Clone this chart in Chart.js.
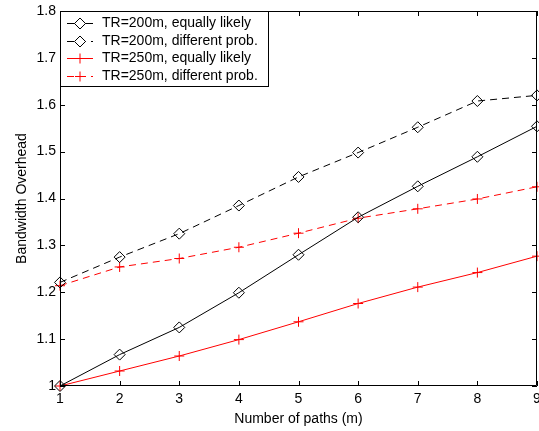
<!DOCTYPE html>
<html>
<head>
<meta charset="utf-8">
<script src="https://cdn.jsdelivr.net/npm/chart.js@4/dist/chart.umd.min.js"></script>
<style>
  html, body { margin: 0; padding: 0; background: #fff; }
  #wrap { width: 539px; height: 431px; }
</style>
</head>
<body>
<div id="wrap"><canvas id="chart" width="539" height="431"></canvas></div>
<script>
// data
const paths = [1, 2, 3, 4, 5, 6, 7, 8, 9];
const tr200Equal = [1.000, 1.067, 1.125, 1.199, 1.280, 1.360, 1.426, 1.489, 1.554];
const tr200Diff  = [1.221, 1.275, 1.325, 1.385, 1.446, 1.498, 1.552, 1.608, 1.620];
const tr250Equal = [1.000, 1.032, 1.064, 1.099, 1.137, 1.176, 1.211, 1.242, 1.277];
const tr250Diff  = [1.214, 1.254, 1.272, 1.296, 1.326, 1.358, 1.378, 1.399, 1.425];
const yTicks = [1.0, 1.1, 1.2, 1.3, 1.4, 1.5, 1.6, 1.7, 1.8];
const seriesLabels = [
  "TR=200m, equally likely",
  "TR=200m, different prob.",
  "TR=250m, equally likely",
  "TR=250m, different prob.",
];

const FONT = "'Liberation Sans', Arial, Helvetica, sans-serif";
const FSIZE = 14;
const DASH = [7, 5];

function pts(vals) {
  return vals.map((v, i) => ({ x: paths[i], y: v }));
}

function series(label, vals, color, dashed, marker) {
  return {
    label,
    data: pts(vals),
    borderColor: color,
    borderWidth: 1,
    borderDash: dashed ? DASH : [],
    pointStyle: marker,
    pointRadius: marker === "rectRot" ? 5.5 : 5,
    pointBorderColor: color,
    pointBackgroundColor: "rgba(0,0,0,0)",
    pointBorderWidth: 1,
    tension: 0,
    clip: false,
  };
}

// MATLAB 風の枠・内向き目盛り・凡例
const matlabBox = {
  id: "matlabBox",
  afterDraw(chart) {
    const ctx = chart.ctx;
    const a = chart.chartArea;
    const xs = chart.scales.x, ys = chart.scales.y;
    const tl = 5;
    ctx.save();
    ctx.strokeStyle = "#000";
    ctx.lineWidth = 1;
    ctx.setLineDash([]);
    ctx.beginPath();
    ctx.rect(a.left + 0.5, a.top + 0.5, a.right - a.left - 1, a.bottom - a.top - 1);
    ctx.stroke();

    ctx.beginPath();
    xs.ticks.forEach(t => {
      const px = Math.round(xs.getPixelForValue(t.value)) + 0.5;
      ctx.moveTo(px, a.bottom); ctx.lineTo(px, a.bottom - tl);
      ctx.moveTo(px, a.top); ctx.lineTo(px, a.top + tl);
    });
    ys.ticks.forEach(t => {
      const py = Math.round(ys.getPixelForValue(t.value)) + 0.5;
      ctx.moveTo(a.left, py); ctx.lineTo(a.left + tl, py);
      ctx.moveTo(a.right, py); ctx.lineTo(a.right - tl, py);
    });
    ctx.stroke();

    // legend
    const lx = a.left + 0.5, ly = a.top + 0.5, lw = 208, lh = 75;
    ctx.fillStyle = "#fff";
    ctx.fillRect(lx, ly, lw, lh);
    ctx.strokeStyle = "#000";
    ctx.strokeRect(lx, ly, lw, lh);

    const rowY = [12, 30, 47, 65];
    chart.data.datasets.forEach((ds, i) => {
      const y = Math.round(a.top + rowY[i]) + 0.5;
      ctx.strokeStyle = ds.borderColor;
      ctx.setLineDash(ds.borderDash);
      ctx.beginPath();
      ctx.moveTo(a.left + 7, y);
      ctx.lineTo(a.left + 33, y);
      ctx.stroke();
      ctx.setLineDash([]);
      ctx.fillStyle = "#fff";
      Chart.helpers.drawPoint(ctx, {
        pointStyle: ds.pointStyle,
        radius: ds.pointRadius,
        rotation: 0,
        borderWidth: 1,
      }, a.left + 20, y);
      ctx.fillStyle = "#000";
      ctx.font = FSIZE + "px " + FONT;
      ctx.textBaseline = "middle";
      ctx.textAlign = "left";
      ctx.fillText(ds.label, a.left + 42, y);
    });
    ctx.restore();
  },
};

new Chart(document.getElementById("chart").getContext("2d"), {
  type: "line",
  data: {
    datasets: [
      series(seriesLabels[0], tr200Equal, "#000000", false, "rectRot"),
      series(seriesLabels[1], tr200Diff, "#000000", true, "rectRot"),
      series(seriesLabels[2], tr250Equal, "#ff0000", false, "cross"),
      series(seriesLabels[3], tr250Diff, "#ff0000", true, "cross"),
    ],
  },
  options: {
    responsive: false,
    animation: false,
    layout: { autoPadding: false, padding: { top: 11, right: 2, left: 0, bottom: 0 } },
    plugins: {
      legend: { display: false },
      tooltip: { enabled: false },
    },
    scales: {
      x: {
        type: "linear",
        min: 1,
        max: 9,
        grid: { display: false, drawTicks: false },
        border: { display: false },
        ticks: {
          stepSize: 1,
          color: "#000",
          padding: 5,
          maxRotation: 0,
          font: { family: FONT, size: FSIZE },
        },
        title: {
          display: true,
          text: "Number of paths (m)",
          color: "#000",
          font: { family: FONT, size: FSIZE },
          padding: { top: 0, bottom: 3 },
        },
        afterFit: s => { s.height = 45; s.paddingLeft = 0; s.paddingRight = 0; },
      },
      y: {
        type: "linear",
        min: 1,
        max: 1.8,
        grid: { display: false, drawTicks: false },
        border: { display: false },
        afterBuildTicks: s => { s.ticks = yTicks.map(v => ({ value: v })); },
        ticks: {
          color: "#000",
          padding: 4,
          font: { family: FONT, size: FSIZE },
          callback: v => String(Number(v.toFixed(1))),
        },
        title: {
          display: true,
          text: "Bandwidth Overhead",
          color: "#000",
          font: { family: FONT, size: FSIZE },
          padding: { top: 14, bottom: 0 },
        },
        afterFit: s => { s.width = 60; s.paddingTop = 0; s.paddingBottom = 0; },
      },
    },
  },
  plugins: [matlabBox],
});
</script>
</body>
</html>
